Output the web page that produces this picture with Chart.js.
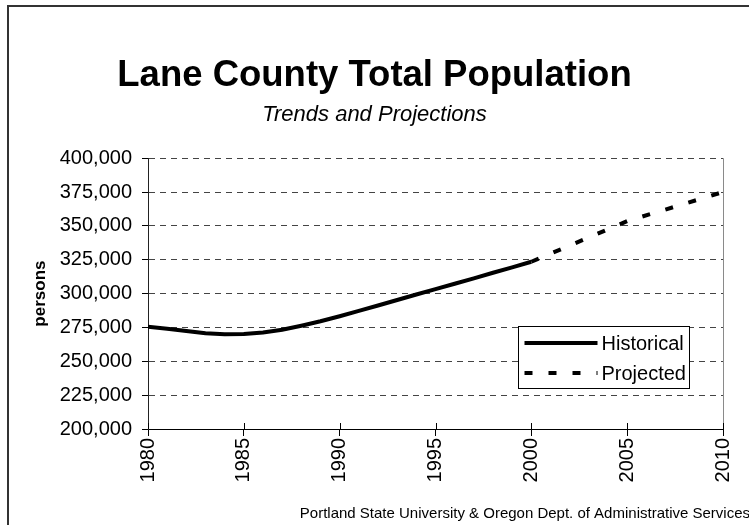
<!DOCTYPE html>
<html>
<head>
<meta charset="utf-8">
<script src="https://cdn.jsdelivr.net/npm/chart.js@4.4.1/dist/chart.umd.min.js"></script>
<style>
  html, body { margin: 0; padding: 0; background: #fff; }
  #wrap { position: relative; width: 749px; height: 525px; overflow: hidden; }
  canvas { display: block; }
</style>
</head>
<body>
<div id="wrap"><canvas id="c" width="749" height="525"></canvas></div>
<script>
// ---- data ----
const historicalYears = [1980,1981,1982,1983,1984,1985,1986,1987,1988,1989,1990,1991,1992,1993,1994,1995,1996,1997,1998,1999,2000];
const historicalValues = [275500,274000,272300,270800,270000,270100,271200,273300,276300,279600,283300,287200,291200,295300,299300,303300,307300,311300,315400,319400,323500];
const projectedYears = [2000,2005,2010];
const projectedValues = [323500,353500,375000];
const seriesLabels = ['Historical','Projected'];
const yTickValues = [200000,225000,250000,275000,300000,325000,350000,375000,400000];
const xTickValues = [1980,1985,1990,1995,2000,2005,2010];
const titleText = 'Lane County Total Population';
const subtitleText = 'Trends and Projections';
const yAxisTitle = 'persons';
const footerText = 'Portland State University & Oregon Dept. of Administrative Services';

const FONT = "'Liberation Sans', Arial, sans-serif";

const toPoints = (xs, ys) => xs.map((x, i) => ({x: x, y: ys[i]}));

const frame = {
  id: 'frame',
  beforeDraw(chart) {
    const ctx = chart.ctx;
    ctx.save();
    ctx.fillStyle = '#fff';
    ctx.fillRect(0, 0, chart.width, chart.height);
    ctx.fillStyle = '#333';
    ctx.fillRect(7, 5, 2, chart.height);
    ctx.fillRect(7, 5, chart.width, 2);
    ctx.restore();
  },
  afterDraw(chart) {
    const ctx = chart.ctx;
    ctx.save();
    ctx.font = '15px ' + FONT;
    ctx.fillStyle = '#000';
    ctx.textAlign = 'right';
    ctx.textBaseline = 'alphabetic';
    ctx.fillText(footerText, chart.width + 1, 518);
    ctx.restore();
  }
};

// x tick marks in the reference cross the axis: draw the inner half
const innerTicks = {
  id: 'innerTicks',
  afterDraw(chart) {
    const ctx = chart.ctx, xs = chart.scales.x, ca = chart.chartArea;
    ctx.save();
    ctx.strokeStyle = '#000';
    ctx.lineWidth = 1;
    xs.ticks.forEach(t => {
      const px = Math.round(xs.getPixelForValue(t.value)) + 0.5;
      ctx.beginPath();
      ctx.moveTo(px, ca.bottom);
      ctx.lineTo(px, ca.bottom - 6);
      ctx.stroke();
    });
    ctx.restore();
  }
};

const legendBox = {
  id: 'legendBox',
  afterDatasetsDraw(chart) {
    const ctx = chart.ctx, ca = chart.chartArea;
    const w = 171, h = 62;
    const x = Math.round(ca.right - 34 - w) + 0.5;
    const y = Math.round(ca.bottom - 41 - h) + 0.5;
    ctx.save();
    ctx.fillStyle = '#fff';
    ctx.fillRect(x, y, w, h);
    ctx.strokeStyle = '#000';
    ctx.lineWidth = 1;
    ctx.setLineDash([]);
    ctx.strokeRect(x, y, w, h);
    chart.data.datasets.forEach((ds, i) => {
      const cy = y + 16.5 + i * 30;
      ctx.save();
      ctx.strokeStyle = ds.borderColor;
      ctx.lineWidth = ds.borderWidth;
      ctx.lineCap = 'butt';
      ctx.setLineDash(ds.borderDash || []);
      ctx.beginPath();
      ctx.moveTo(x + 6, cy);
      ctx.lineTo(x + 79, cy);
      ctx.stroke();
      ctx.restore();
      ctx.fillStyle = '#000';
      ctx.font = '20px ' + FONT;
      ctx.textAlign = 'left';
      ctx.textBaseline = 'middle';
      ctx.fillText(ds.label, x + 83, cy + 1);
    });
    ctx.restore();
  }
};

new Chart(document.getElementById('c'), {
  type: 'line',
  data: {
    datasets: [
      {
        label: seriesLabels[0],
        data: toPoints(historicalYears, historicalValues),
        borderColor: '#000',
        borderWidth: 4,
        pointRadius: 0,
        tension: 0,
        borderCapStyle: 'butt',
        fill: false
      },
      {
        label: seriesLabels[1],
        data: toPoints(projectedYears, projectedValues),
        borderColor: '#000',
        borderWidth: 4,
        borderDash: [8, 16],
        pointRadius: 0,
        tension: 0,
        borderCapStyle: 'butt',
        fill: false
      }
    ]
  },
  options: {
    responsive: false,
    animation: false,
    devicePixelRatio: 1,
    layout: { padding: { left: 24, right: 24, top: 0, bottom: 0 } },
    plugins: {
      legend: { display: false },
      tooltip: { enabled: false },
      title: {
        display: true,
        text: titleText,
        color: '#000',
        font: { family: FONT, size: 36.5, weight: 'bold' },
        padding: { top: 54, bottom: 0 }
      },
      subtitle: {
        display: true,
        text: subtitleText,
        color: '#000',
        font: { family: FONT, size: 22, style: 'italic', weight: 'normal' },
        padding: { top: 4, bottom: 30 }
      }
    },
    scales: {
      x: {
        type: 'linear',
        min: xTickValues[0],
        max: xTickValues[xTickValues.length - 1],
        afterBuildTicks(scale) { scale.ticks = xTickValues.map(v => ({value: v})); },
        afterFit(scale) { scale.height = 96; },
        ticks: {
          color: '#000',
          font: { family: FONT, size: 20 },
          minRotation: 90,
          maxRotation: 90,
          padding: 2,
          autoSkip: false,
          callback: v => String(v)
        },
        grid: {
          drawOnChartArea: true,
          color: ctx => (ctx.tick && ctx.tick.value === 2010) ? '#8a8a8a' : 'rgba(0,0,0,0)',
          lineWidth: 1,
          tickColor: '#000',
          tickLength: 7
        },
        border: { display: true, color: '#000', width: 1 }
      },
      y: {
        type: 'linear',
        min: yTickValues[0],
        max: yTickValues[yTickValues.length - 1],
        afterBuildTicks(scale) { scale.ticks = yTickValues.map(v => ({value: v})); },
        afterFit(scale) { scale.width = 124; },
        ticks: {
          color: '#000',
          font: { family: FONT, size: 20 },
          padding: 10,
          callback: v => Number(v).toLocaleString('en-US')
        },
        grid: {
          color: '#444',
          lineWidth: 1,
          tickColor: '#000',
          tickLength: 6,
          tickBorderDash: []
        },
        border: { display: true, color: '#222', width: 1, dash: [6, 5] },
        title: {
          display: true,
          text: yAxisTitle,
          color: '#000',
          font: { family: FONT, size: 17, weight: 'bold' },
          padding: { top: 6, bottom: 0 }
        }
      }
    }
  },
  plugins: [frame, innerTicks, legendBox]
});
</script>
</body>
</html>
